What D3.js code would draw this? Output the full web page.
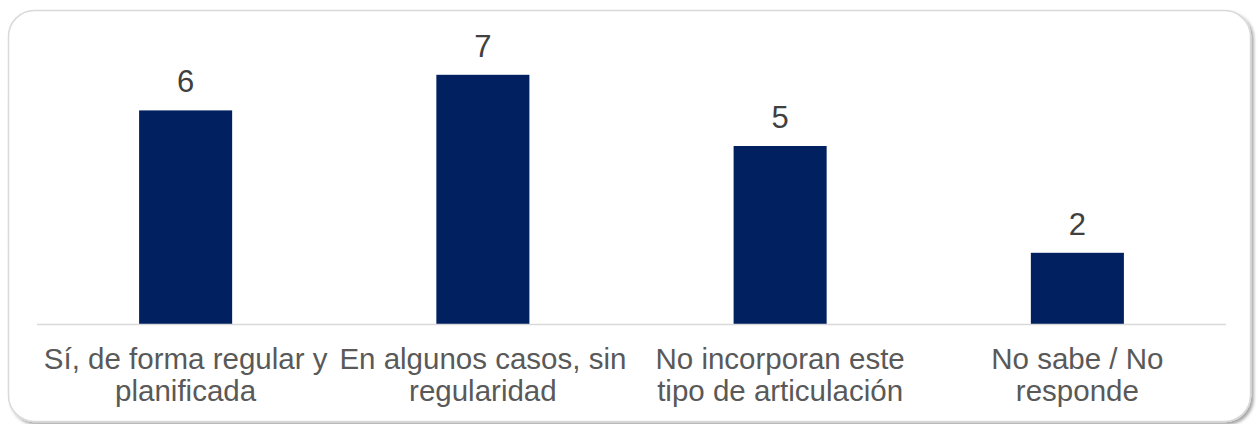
<!DOCTYPE html>
<html>
<head>
<meta charset="utf-8">
<script src="https://cdn.jsdelivr.net/npm/d3@7"></script>
<style>
  html, body { margin: 0; padding: 0; background: #ffffff; }
  svg { display: block; }
</style>
</head>
<body>
<svg id="chart" width="1259" height="424"></svg>
<script>
const categories = [
  "Sí, de forma regular y planificada",
  "En algunos casos, sin regularidad",
  "No incorporan este tipo de articulación",
  "No sabe / No responde"
];
const categoryLines = [
  ["Sí, de forma regular y", "planificada"],
  ["En algunos casos, sin", "regularidad"],
  ["No incorporan este", "tipo de articulación"],
  ["No sabe / No", "responde"]
];
const values = [6, 7, 5, 2];

const svg = d3.select("#chart");
const font = "'Liberation Sans', Arial, sans-serif";

const defs = svg.append("defs");
const f = defs.append("filter").attr("id", "shadow")
  .attr("x", "-5%").attr("y", "-5%").attr("width", "110%").attr("height", "110%");
f.append("feDropShadow").attr("dx", 2.5).attr("dy", 2.5).attr("stdDeviation", 1.5)
  .attr("flood-color", "#000").attr("flood-opacity", 0.35);

svg.append("rect")
  .attr("x", 8.5).attr("y", 10.5)
  .attr("width", 1242).attr("height", 411)
  .attr("rx", 26).attr("ry", 26)
  .attr("fill", "#ffffff")
  .attr("stroke", "#d9d9d9").attr("stroke-width", 1.5)
  .attr("filter", "url(#shadow)");

const x0 = 37, x1 = 1226, baseY = 324;
const x = d3.scaleBand().domain(categories).range([x0, x1]).paddingInner(0.687).paddingOuter(0.3435);
const y = d3.scaleLinear().domain([0, 8]).range([baseY, baseY - 35.6 * 8]);

svg.append("g").selectAll("rect").data(values).join("rect")
  .attr("x", (d, i) => x(categories[i]))
  .attr("width", x.bandwidth())
  .attr("y", d => y(d))
  .attr("height", d => y(0) - y(d))
  .attr("fill", "#002060");

svg.append("g").selectAll("text").data(values).join("text")
  .attr("x", (d, i) => x(categories[i]) + x.bandwidth() / 2)
  .attr("y", d => y(d) - 18)
  .attr("text-anchor", "middle")
  .attr("font-family", font)
  .attr("font-size", 31)
  .attr("fill", "#404040")
  .text(d => d);

svg.append("line")
  .attr("x1", x0).attr("x2", x1)
  .attr("y1", baseY + 0.5).attr("y2", baseY + 0.5)
  .attr("stroke", "#d9d9d9").attr("stroke-width", 1.5);

const labels = svg.append("g").selectAll("text").data(categories).join("text")
  .attr("x", d => x(d) + x.bandwidth() / 2)
  .attr("y", 369)
  .attr("text-anchor", "middle")
  .attr("font-family", font)
  .attr("font-size", 29.5)
  .attr("fill", "#595959");
labels.each(function(d, i) {
  d3.select(this).selectAll("tspan").data(categoryLines[i]).join("tspan")
    .attr("x", x(d) + x.bandwidth() / 2)
    .attr("dy", (l, j) => j === 0 ? 0 : 32)
    .text(l => l);
});
</script>
</body>
</html>
